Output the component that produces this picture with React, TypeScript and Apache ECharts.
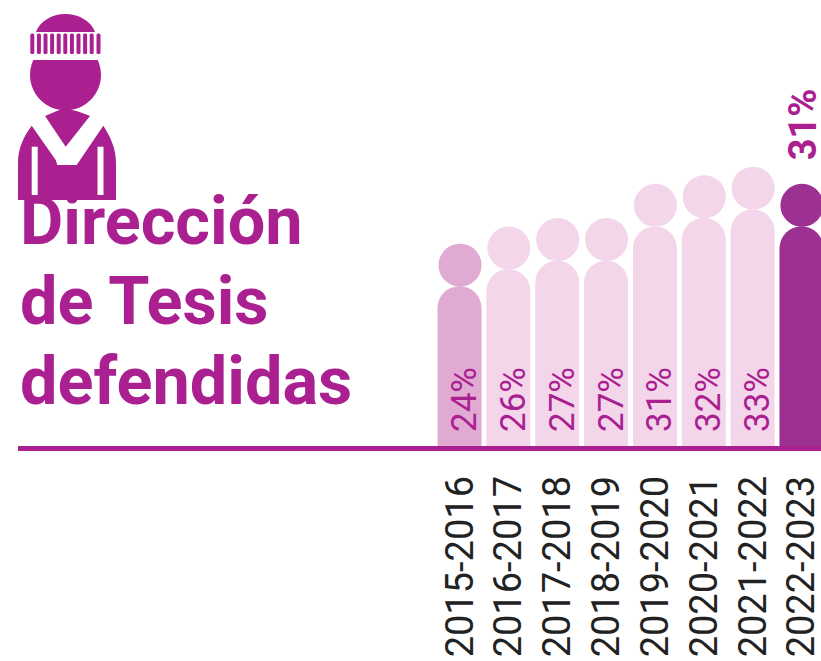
import React, { useEffect, useRef } from "react";
import * as echarts from "echarts";

const categories = ["2015-2016","2016-2017","2017-2018","2018-2019","2019-2020","2020-2021","2021-2022","2022-2023"];
const shares = [24, 26, 27, 27, 31, 32, 33, 31];
const barColors = ["#E0AAD2","#F3D6E9","#F3D6E9","#F3D6E9","#F3D6E9","#F3D6E9","#F3D6E9","#9C3191"];
const titleText = "Dirección\nde Tesis\ndefendidas";
const MAGENTA = "#AA2090";

const bodyPath = "M31.7 125.7 C24 136 18 148 18 163 L18 200 L116 200 L116 163 C116 148 110 136 103.3 125.7 L76.7 165 L57.3 165 L55.7 160 Z";
const collarPath = "M45 116 C55 112 60 109 65 109 C72 109 80 112 90 116 L65.7 146.7 Z";
const headPath = "M33.3 60 A35.5 35.5 0 1 0 97.7 60 Z";
const domePath = "M36 32 C40 21 52 14 65 14 C79 14 91 21 95 32 Z";

const ribXs = [30.3, 36.9, 43.5, 50.1, 56.7, 63.3, 69.9, 76.5, 83.1, 89.7, 96.5];

export default function App() {
  const ref = useRef<HTMLDivElement>(null);
  useEffect(() => {
    document.body.style.margin = "0";
    echarts.graphic.registerShape("bodyShape", echarts.graphic.extendPath(bodyPath, {}) as any);
    echarts.graphic.registerShape("collarShape", echarts.graphic.extendPath(collarPath, {}) as any);
    echarts.graphic.registerShape("headShape", echarts.graphic.extendPath(headPath, {}) as any);
    echarts.graphic.registerShape("domeShape", echarts.graphic.extendPath(domePath, {}) as any);
    const chart = echarts.init(ref.current!, undefined, { renderer: "svg" });
    const fill = { fill: MAGENTA };
    chart.setOption({
      animation: false,
      backgroundColor: "#fff",
      title: {
        text: titleText,
        left: 20,
        top: 181,
        padding: 0,
        textStyle: { fontFamily: "Roboto", fontWeight: "bold", fontSize: 66.6, lineHeight: 80, color: MAGENTA },
      },
      grid: { left: 435.1, top: 46, width: 390.8, height: 400 },
      xAxis: {
        type: "category",
        data: categories,
        axisLine: { show: false },
        axisTick: { show: false },
        axisLabel: { rotate: 90, interval: 0, margin: 30, fontFamily: "Roboto", fontSize: 38, color: "#222" },
      },
      yAxis: { type: "value", min: 5.3, max: 52.1, show: false, splitLine: { show: false } },
      series: [
        {
          type: "bar",
          barWidth: 44,
          z: 2,
          data: shares.map((v, i) => ({
            value: v,
            itemStyle: { color: barColors[i], borderRadius: [22, 22, 0, 0] },
            label:
              i === shares.length - 1
                ? { show: true, position: "top", distance: 66, rotate: 90, align: "left", verticalAlign: "middle", fontWeight: "bold", fontSize: 38, offset: [0, 2] }
                : { show: true, position: "insideBottom", distance: 11, rotate: 90, align: "left", verticalAlign: "middle", fontSize: 35, offset: [3, 5] },
          })),
          label: { formatter: "{c}%", fontFamily: "Roboto", color: MAGENTA },
        },
        {
          type: "scatter",
          symbol: "circle",
          symbolSize: 43,
          symbolOffset: [0.5, -21],
          z: 2,
          data: shares.map((v, i) => ({ value: v, itemStyle: { color: barColors[i], opacity: 1 } })),
        },
      ],
      graphic: [
        { type: "rect", z: 10, shape: { x: 18, y: 446, width: 803, height: 5 }, style: fill },
        { type: "domeShape", z: 1, style: fill },
        ...ribXs.map((x) => ({ type: "rect", z: 1, shape: { x, y: 33.5, width: 4, height: 20.5, r: 1.5 }, style: fill })),
        { type: "headShape", z: 1, style: fill },
        { type: "collarShape", z: 1, style: fill },
        { type: "bodyShape", z: 1, style: fill },
        { type: "rect", z: 1, shape: { x: 31.7, y: 146.7, width: 6, height: 48.3 }, style: { fill: "#fff" } },
        { type: "rect", z: 1, shape: { x: 97.5, y: 146.7, width: 6, height: 48.3 }, style: { fill: "#fff" } },
      ],
    });
    return () => chart.dispose();
  }, []);
  return (
    <div style={{ width: 821, height: 661, position: "absolute", left: 0, top: 0, overflow: "hidden" }}>
      <div ref={ref} style={{ width: 860, height: 661 }} />
    </div>
  );
}
